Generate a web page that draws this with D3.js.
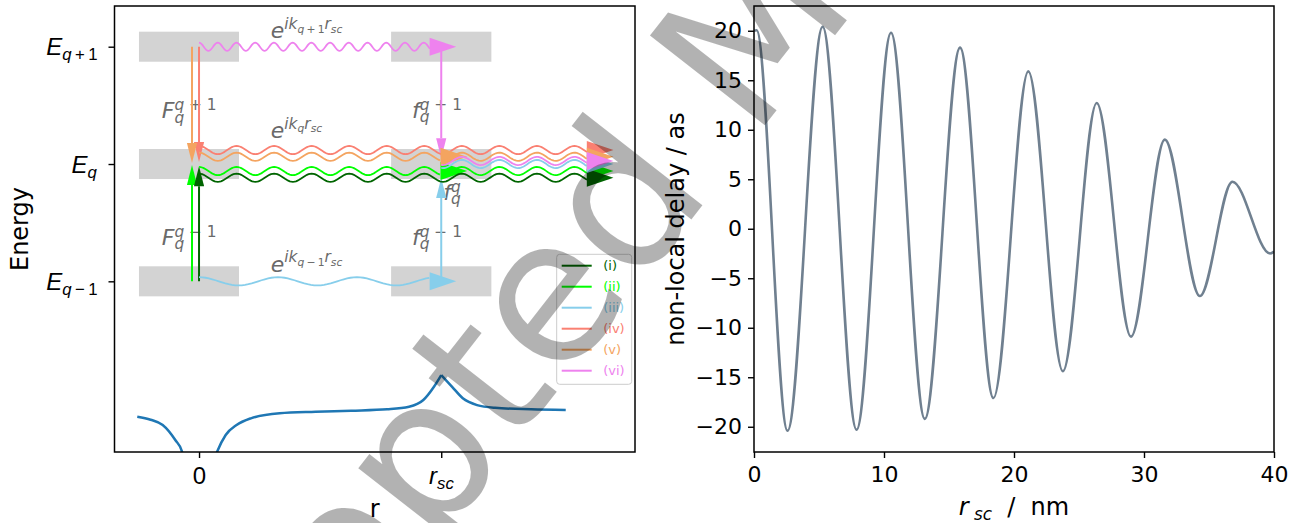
<!DOCTYPE html>
<html>
<head>
<meta charset="utf-8">
<script src="https://cdn.jsdelivr.net/npm/d3@7"></script>
<style>
  body { margin: 0; background: #fff; }
  svg { display: block; font-family: 'DejaVu Sans', sans-serif; }
  .pre { white-space: pre; }
</style>
</head>
<body>
<div id="chart"></div>
<script>
// ---------- data ----------

// right panel: non-local delay vs scatterer distance (extrema)
const delayR  = [0, 0.2, 2.58, 5.28, 7.89, 10.54, 13.14, 15.85, 18.42, 21.1, 23.76, 26.36, 29.0, 31.6, 34.3, 36.8, 39.7, 40];
const delayAs = [20.0, 20.05, -20.4, 20.4, -20.3, 19.8, -19.2, 18.3, -17.1, 15.9, -14.4, 12.7, -10.9, 9.0, -6.8, 4.75, -2.5, -2.3];
const delayXTicks = [0, 10, 20, 30, 40];
const delayYTicks = [-20, -15, -10, -5, 0, 5, 10, 15, 20];

// left panel: energy levels (E_q = 0) and the two sites (0 and r_sc = 1)
const levelE = [1, 0, -1];
const siteR = [0, 1];
// grey level bands: r extent of each column
const bandR = [[-0.248, 0.165], [0.793, 1.207]];

// model potential, three branches (r, V)
const potInR  = [-0.255, -0.2, -0.15, -0.098, -0.071, -0.062];
const potInV  = [-2.154, -2.18, -2.225, -2.353, -2.447, -2.523];
const potMidR = [0.062, 0.076, 0.110, 0.155, 0.214, 0.333, 0.481, 0.628, 0.777, 0.867, 0.926, 0.970, 1.0];
const potMidV = [-2.523, -2.447, -2.310, -2.225, -2.168, -2.125, -2.112, -2.103, -2.091, -2.069, -2.012, -1.899, -1.80];
const potOutR = [1.0, 1.045, 1.089, 1.148, 1.222, 1.371, 1.514];
const potOutV = [-1.80, -1.899, -1.997, -2.055, -2.078, -2.091, -2.097];

// pathways
const pathNames  = ['(i)', '(ii)', '(iii)', '(iv)', '(v)', '(vi)'];
const pathColors = ['darkgreen', 'lime', 'skyblue', 'salmon', 'sandybrown', 'violet'];
const drawOrder  = [1, 0, 2, 3, 4, 5];

// photon step of each pathway: r, start level, arrow tip energy
const jumpR    = [0, -0.029, 1, 0, -0.029, 1];
const jumpFrom = [-1, -1, -1, 1, 1, 1];
const jumpTip  = [-0.02, -0.009, -0.12, 0.017, 0.009, 0.05];

// propagating legs: [pathway, start r, arrow tip r, level, track offset]
const waveLegs = [
  [2, 0, 1.062, -1, 0],
  [5, 0, 1.062, 1, 0],
  [1, 0, 1.107, 0, -0.06],
  [4, 0, 1.107, 0, 0.062],
  [0, 0, 1.711, 0, -0.117],
  [1, 1, 1.711, 0, -0.06],
  [2, 1, 1.711, 0, 0],
  [3, 0, 1.711, 0, 0.119],
  [4, 1, 1.711, 0, 0.062],
  [5, 1, 1.711, 0, 0.026]
];
// wavelength (r units) of e^{ikr} on each level
const waveLevel  = [1, 0, -1];
const waveLength = [0.0773, 0.155, 0.326];

// ---------- layout ----------
const W = 1293, H = 523;
const L = { x: 114.5, y: 6, w: 520.5, h: 446 };
const R = { x: 754, y: 6, w: 520, h: 446 };
const grey = '#6a6a6a';
const TS = '\u2009';

const svg = d3.select('#chart').append('svg').attr('width', W).attr('height', H);

// parts: [text, italic, scale, rise(em)]
function mathText(sel, parts, size) {
  let rise = 0;
  parts.forEach(([t, it, sc, r]) => {
    const ts = sel.append('tspan')
      .attr('font-style', it ? 'italic' : 'normal')
      .attr('font-size', size * sc)
      .text(t);
    if (r !== rise) ts.attr('dy', (rise - r) * size);
    rise = r;
  });
}

// math label aligned by its measured box
function placeMath(parent, parts, size, x, y, anchor) {
  const t = parent.append('text').attr('class', 'pre')
    .attr('text-anchor', 'start').attr('x', x).attr('y', y);
  mathText(t, parts, size);
  const bb = t.node().getBBox();
  const k = anchor === 'end' ? 1 : anchor === 'middle' ? 0.5 : 0;
  t.attr('x', x - (bb.x + bb.width * k - x));
  return t;
}

// base letter with stacked super/subscript, like F_q^{q+1}
function stacked(g, x, y, base, sup, sub, size) {
  const b = g.append('text').attr('x', x).attr('y', y).attr('font-size', size)
    .attr('font-style', 'italic').attr('fill', grey).text(base);
  const w = b.node().getComputedTextLength();
  const s = g.append('text').attr('class', 'pre').attr('x', x + w).attr('y', y - 0.38 * size).attr('fill', grey);
  mathText(s, sup, size);
  g.append('text').attr('x', x + w).attr('y', y + 0.2 * size).attr('fill', grey)
    .attr('font-size', 0.7 * size).attr('font-style', 'italic').text(sub);
}

// ---------- left panel ----------
const xL = d3.scaleLinear().domain([-0.349, 1.80]).range([0, L.w]);
const yL = d3.scaleLinear().domain([-2.455, 1.347]).range([L.h, 0]);
const gL = svg.append('g').attr('transform', `translate(${L.x},${L.y})`);

svg.append('clipPath').attr('id', 'clipL').append('rect').attr('width', L.w).attr('height', L.h);
const plotL = gL.append('g').attr('clip-path', 'url(#clipL)');

// bands
levelE.forEach(e => {
  bandR.forEach(([a, b]) => {
    plotL.append('rect')
      .attr('x', xL(a)).attr('width', xL(b) - xL(a))
      .attr('y', yL(e + 0.128)).attr('height', yL(e - 0.128) - yL(e + 0.128))
      .attr('fill', '#d3d3d3');
  });
});

// annotations
const eLab = (k) => [['e', 1, 1, 0], ['ik', 1, 0.7, 0.42], ['q', 1, 0.49, 0.26]]
  .concat(k ? [[k, 0, 0.49, 0.26]] : [])
  .concat([['r', 1, 0.7, 0.42], ['sc', 1, 0.49, 0.26]]);
[[1.072, TS + '+' + TS + '1'], [0.222, ''], [-0.918, TS + '−' + TS + '1']].forEach(([e, k]) => {
  const t = plotL.append('text').attr('class', 'pre')
    .attr('x', xL(0.296)).attr('y', yL(e)).attr('fill', grey);
  mathText(t, eLab(k), 22);
});
const plus1 = [['q', 1, 0.7, 0], [' + 1', 0, 0.7, 0]];
const minus1 = [['q', 1, 0.7, 0], [' − 1', 0, 0.7, 0]];
stacked(plotL, xL(-0.154), yL(0.39), 'F', plus1, 'q', 22);
stacked(plotL, xL(0.879), yL(0.392), 'f', plus1, 'q', 22);
stacked(plotL, xL(-0.154), yL(-0.69), 'F', minus1, 'q', 22);
stacked(plotL, xL(0.879), yL(-0.69), 'f', minus1, 'q', 22);
stacked(plotL, xL(1.008), yL(-0.307), 'f', [['q', 1, 0.7, 0]], 'q', 22);

// potential
const potLine = d3.line().x(d => xL(d[0])).y(d => yL(d[1])).curve(d3.curveMonotoneX);
[[potInR, potInV], [potMidR, potMidV], [potOutR, potOutV]].forEach(([rs, vs]) => {
  plotL.append('path').datum(rs.map((r, i) => [r, vs[i]]))
    .attr('d', potLine).attr('fill', 'none').attr('stroke', '#1f77b4').attr('stroke-width', 2.5);
});

// arrows
const HL = 0.11, HW = 0.077, VL = 0.17, VW = 0.021, AMP = 0.035;
const tri = pts => pts.map(p => [xL(p[0]), yL(p[1])].join(',')).join(' ');

drawOrder.forEach(p => {
  const col = pathColors[p];
  const dir = Math.sign(jumpTip[p] - jumpFrom[p]);
  const baseE = jumpTip[p] - dir * VL;
  plotL.append('line')
    .attr('x1', xL(jumpR[p])).attr('x2', xL(jumpR[p]))
    .attr('y1', yL(jumpFrom[p])).attr('y2', yL(baseE))
    .attr('stroke', col).attr('stroke-width', 2);
  plotL.append('polygon')
    .attr('points', tri([[jumpR[p], jumpTip[p]], [jumpR[p] - VW, baseE], [jumpR[p] + VW, baseE]]))
    .attr('fill', col);
});

const waveLine = d3.line().x(d => xL(d[0])).y(d => yL(d[1]));
drawOrder.forEach(p => {
  waveLegs.filter(l => l[0] === p).forEach(([, r0, tip, lev, off]) => {
    const col = pathColors[p];
    const lam = waveLength[waveLevel.indexOf(lev)];
    const step = lam / 24;
    const pts = d3.range(r0, tip - HL + step / 2, step)
      .map(r => [r, lev + off + AMP * Math.cos(2 * Math.PI * r / lam)]);
    plotL.append('path').datum(pts).attr('d', waveLine)
      .attr('fill', 'none').attr('stroke', col).attr('stroke-width', 1.8);
    const c = lev + off;
    plotL.append('polygon')
      .attr('points', tri([[tip, c], [tip - HL, c + HW], [tip - HL, c - HW]]))
      .attr('fill', col);
  });
});

// legend
const lg = gL.append('g').attr('transform', `translate(${556.7 - L.x},${254.3 - L.y})`);
lg.append('rect').attr('width', 75).attr('height', 130).attr('rx', 3)
  .attr('fill', '#fff').attr('fill-opacity', 0.8).attr('stroke', '#cccccc');
pathNames.forEach((n, i) => {
  const y = 11.4 + 21 * i;
  lg.append('line').attr('x1', 5).attr('x2', 35).attr('y1', y).attr('y2', y)
    .attr('stroke', pathColors[i]).attr('stroke-width', 2);
  lg.append('text').attr('x', 46.5).attr('y', y).attr('dy', '0.35em')
    .attr('font-size', 13).attr('fill', pathColors[i]).text(n);
});

// axes (ticks from d3, math labels placed by hand on each tick)
const axL = gL.append('g').call(d3.axisLeft(yL).tickValues(levelE).tickSize(6).tickFormat(() => ''));
const axB = gL.append('g').attr('transform', `translate(0,${L.h})`)
  .call(d3.axisBottom(xL).tickValues(siteR).tickSize(6).tickFormat(() => ''));
const levelParts = [
  [['E', 1, 1, 0], ['q', 1, 0.7, -0.22], [TS + '+' + TS + '1', 0, 0.7, -0.22]],
  [['E', 1, 1, 0], ['q', 1, 0.7, -0.22]],
  [['E', 1, 1, 0], ['q', 1, 0.7, -0.22], [TS + '−' + TS + '1', 0, 0.7, -0.22]]
];
const siteParts = [[['0', 0, 1, 0]], [['r', 1, 1, 0], ['sc', 1, 0.7, -0.22]]];
[axL, axB].forEach(a => {
  a.select('.domain').remove();
  a.selectAll('.tick text').remove();
  a.selectAll('line').attr('stroke', '#000').attr('stroke-width', 1.4);
});
axL.selectAll('.tick').each(function (d, i) { placeMath(d3.select(this), levelParts[i], 24, -17, 8, 'end').attr('fill', '#000'); });
axB.selectAll('.tick').each(function (d, i) { placeMath(d3.select(this), siteParts[i], 24, 0, 32, 'middle').attr('fill', '#000'); });
gL.append('rect').attr('width', L.w).attr('height', L.h)
  .attr('fill', 'none').attr('stroke', '#000').attr('stroke-width', 1.5);

svg.append('text').attr('transform', `translate(28,${L.y + L.h / 2}) rotate(-90)`)
  .attr('text-anchor', 'middle').attr('font-size', 24).text('Energy');
svg.append('text').attr('x', L.x + L.w / 2).attr('y', 517)
  .attr('text-anchor', 'middle').attr('font-size', 24).text('r');

// ---------- right panel ----------
const xR = d3.scaleLinear().domain([0, 40]).range([0, R.w]);
const yR = d3.scaleLinear().domain([-22.55, 22.5]).range([R.h, 0]);
const gR = svg.append('g').attr('transform', `translate(${R.x},${R.y})`);
svg.append('clipPath').attr('id', 'clipR').append('rect').attr('width', R.w).attr('height', R.h);

gR.append('g').attr('clip-path', 'url(#clipR)').append('path')
  .datum(delayR.map((r, i) => [r, delayAs[i]]))
  .attr('d', d3.line().x(d => xR(d[0])).y(d => yR(d[1])).curve(d3.curveMonotoneX))
  .attr('fill', 'none').attr('stroke', '#708090').attr('stroke-width', 2.6);

const axRx = gR.append('g').attr('transform', `translate(0,${R.h})`)
  .call(d3.axisBottom(xR).tickValues(delayXTicks).tickSize(6).tickPadding(8));
const axRy = gR.append('g')
  .call(d3.axisLeft(yR).tickValues(delayYTicks).tickSize(6).tickPadding(6).tickFormat(d => d < 0 ? '−' + (-d) : d));
[axRx, axRy].forEach(a => {
  a.select('.domain').remove();
  a.selectAll('line').attr('stroke', '#000').attr('stroke-width', 1.4);
  a.selectAll('text').attr('fill', '#000').attr('font-size', 22).attr('font-family', 'DejaVu Sans');
});
gR.append('rect').attr('width', R.w).attr('height', R.h)
  .attr('fill', 'none').attr('stroke', '#000').attr('stroke-width', 1.5);

svg.append('text').attr('transform', `translate(684,${R.y + R.h / 2}) rotate(-90)`)
  .attr('text-anchor', 'middle').attr('font-size', 24).text('non-local delay / as');
placeMath(svg, [['r', 1, 1, 0], [' sc', 1, 0.7, -0.22], ['  /  nm', 0, 1, 0]], 24, R.x + R.w / 2, 515, 'middle');

// ---------- watermark ----------
svg.append('text').attr('transform', 'translate(140,925) rotate(-52)')
  .attr('font-size', 200).attr('fill', '#000').attr('fill-opacity', 0.3)
  .text('Accepted Manuscript');
</script>
</body>
</html>
